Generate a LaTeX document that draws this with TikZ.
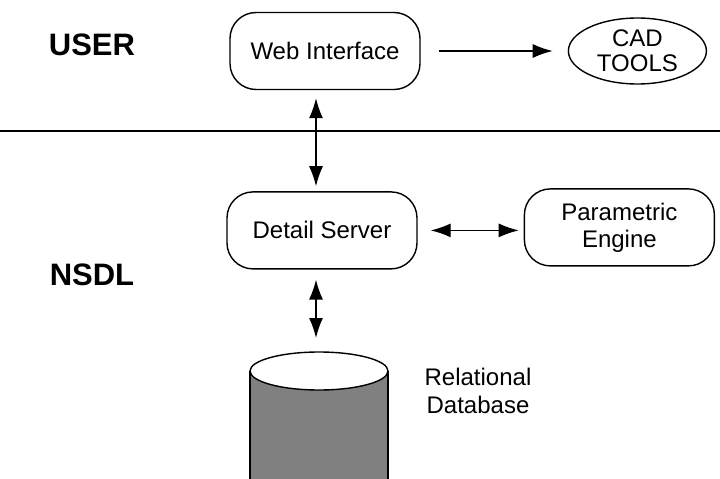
\documentclass[tikz,border=0pt]{standalone}
\usepackage{fontspec}
\setmainfont{Liberation Sans}
\usetikzlibrary{positioning, shapes.geometric, arrows.meta}

\begin{document}
\begin{tikzpicture}[
x=1pt, y=-1pt,
font=\fontsize{24}{28}\selectfont,
roundbox/.style={rectangle,
  draw, line width=1.4pt,
  rounded corners=26pt,
  minimum width=190pt,
  minimum height=77pt,
  align=center,
},
layer/.style={font=\fontsize{31}{36}\selectfont\bfseries},
link/.style={line width=1.4pt},
>={Latex[length=20pt,width=14pt]}
]
\useasboundingbox (0,0) rectangle (720,479);

\node[layer] (user) at (92,45) {USER};
\node[layer] (nsdl) at (92,275) {NSDL};

\node[roundbox] (web) at (325,51)
    {Web Interface};
\node[ellipse, draw, line width=1.4pt, minimum width=138pt, minimum height=66pt,
      inner sep=0pt, align=center, right= 147pt of web] (cad)
    {CAD\\[-3pt]TOOLS};
\node[roundbox, below= 101pt of web, xshift=-3pt] (detail)
    {Detail Server};
\node[roundbox, right= 106pt of detail, yshift=3pt] (param)
    {Parametric\\[-1pt]Engine};

% database drum
\draw[line width=1.4pt, fill=black!50] (250,371) -- (250,495) -- (388,495) -- (388,371);
\draw[line width=1.4pt, fill=white] (319,371) ellipse (69 and 19);
\coordinate (db) at (316,352);
\node[align=center] (dblabel) at (478,391)
    {Relational\\Database};

% split between user side and library side
\draw[line width=1.4pt] (0,131) -- (720,131);

\draw[link,->, shorten <=18pt, shorten >=15pt] (web.east) -- (cad.west);
\draw[link,<->, shorten <=8pt, shorten >=5pt] ([xshift=-9pt]web.south) -- ([xshift=-6pt]detail.north);
\draw[link,<->, shorten <=13pt, shorten >=5pt] (detail.east) -- (detail.east -| param.west);
\draw[link,<->, shorten <=10pt, shorten >=14pt] ([xshift=-6pt]detail.south) -- (db);
\end{tikzpicture}
\end{document}
